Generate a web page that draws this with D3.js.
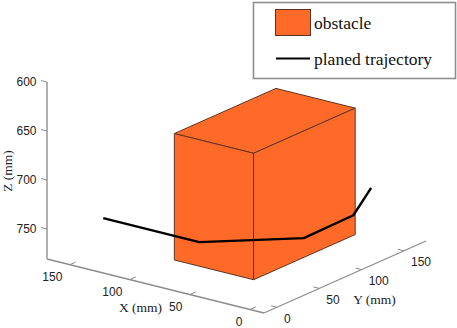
<!DOCTYPE html>
<html>
<head>
<meta charset="utf-8">
<script src="https://cdn.jsdelivr.net/npm/d3@7"></script>
<style>
  html, body { margin: 0; padding: 0; background: #fff; }
  svg { display: block; }
</style>
</head>
<body>
<div id="chart"></div>
<script>
// Values (mm)
const xTicks = [0, 50, 100, 150];
const yTicks = [0, 50, 100, 150];
const zTicks = [600, 650, 700, 750];
const xDomain = [-11.7, 169];
const yDomain = [-15.3, 176];
const zDomain = [600, 780.6];

const obstacleX = [9.6, 75.6];
const obstacleY = [2.6, 122.6];
const obstacleZ = [631, 760];

const trajectoryX = [152, 72, 21, 22, 10];
const trajectoryY = [27, 27, 78, 138, 142];
const trajectoryZ = [750, 750, 750, 750, 720];

const width = 457, height = 328;
const axisGrey = '#8c8c8c', textColor = '#222';
const orange = '#ff6a29', edge = '#5c3522';

const svg = d3.select('#chart').append('svg')
    .attr('width', width)
    .attr('height', height);

// Oblique 3D view: each axis gets two scales, one per screen direction
const corner = [264, 313];
const xToH = d3.scaleLinear().domain(xDomain).range([0, -217]);
const xToV = d3.scaleLinear().domain(xDomain).range([0, -54]);
const yToH = d3.scaleLinear().domain(yDomain).range([0, 162]);
const yToV = d3.scaleLinear().domain(yDomain).range([0, -72]);
const zToV = d3.scaleLinear().domain(zDomain).range([-177, 0]);

function project(x, y, z) {
    return [
        corner[0] + xToH(x) + yToH(y),
        corner[1] + xToV(x) + yToV(y) + zToV(z)
    ];
}

const path = d3.line();

function seg(g, a, b, color, w) {
    g.append('path')
        .attr('d', path([a, b]))
        .attr('fill', 'none')
        .attr('stroke', color)
        .attr('stroke-width', w);
}

// Axes
const axes = svg.append('g');
const [x0, x1] = xDomain, [y0, y1] = yDomain, [z0, z1] = zDomain;

seg(axes, project(x1, y0, z1), project(x0, y0, z1), axisGrey, 1.3);
seg(axes, project(x0, y0, z1), project(x0, y1, z1), axisGrey, 1.3);
seg(axes, project(x1, y0, z0), project(x1, y0, z1), '#a8a8a8', 1.8);

const labelFont = '"Liberation Sans", Arial, sans-serif';
const serifFont = '"Liberation Serif", "Times New Roman", serif';

function tickLabel(p, anchor, text) {
    axes.append('text')
        .attr('x', p[0])
        .attr('y', p[1])
        .attr('text-anchor', anchor)
        .attr('font-family', labelFont)
        .attr('font-size', 12)
        .attr('fill', textColor)
        .text(text);
}

xTicks.forEach(t => {
    const p = project(t, y0, z1);
    seg(axes, p, project(t, y0 + 7, z1), axisGrey, 1);
    tickLabel([p[0] - 7.5, p[1] + 16], 'end', t);
});
yTicks.forEach(t => {
    const p = project(x0, t, z1);
    seg(axes, p, project(x0 + 5, t, z1), axisGrey, 1);
    tickLabel([p[0] + 7, p[1] + 15.5], 'start', t);
});
zTicks.forEach(t => {
    const p = project(x1, y0, t);
    seg(axes, p, project(x1 + 5, y0, t), axisGrey, 1);
    tickLabel([36.5, p[1] + 4], 'end', t);
});

function axisTitle(x, y, text, rotate) {
    svg.append('text')
        .attr('transform', `translate(${x},${y})` + (rotate ? ` rotate(${rotate})` : ''))
        .attr('text-anchor', 'middle')
        .attr('font-family', serifFont)
        .attr('font-size', 13.5)
        .attr('fill', textColor)
        .text(text);
}
axisTitle(140.5, 312, 'X (mm)');
axisTitle(374.5, 304, 'Y (mm)');
axisTitle(12, 171, 'Z (mm)', -90);

// Obstacle: the three visible faces
const [bx0, bx1] = obstacleX, [by0, by1] = obstacleY, [bz0, bz1] = obstacleZ;
const faces = [
    [[bx0, by0, bz0], [bx1, by0, bz0], [bx1, by1, bz0], [bx0, by1, bz0]],
    [[bx0, by0, bz0], [bx1, by0, bz0], [bx1, by0, bz1], [bx0, by0, bz1]],
    [[bx0, by0, bz0], [bx0, by1, bz0], [bx0, by1, bz1], [bx0, by0, bz1]]
];
svg.append('g').selectAll('path')
    .data(faces)
    .join('path')
    .attr('d', f => path(f.map(c => project(...c))) + 'Z')
    .attr('fill', orange)
    .attr('stroke', edge)
    .attr('stroke-width', 1)
    .attr('stroke-linejoin', 'round');

// Trajectory
svg.append('path')
    .attr('d', path(trajectoryX.map((x, i) => project(x, trajectoryY[i], trajectoryZ[i]))))
    .attr('fill', 'none')
    .attr('stroke', '#000')
    .attr('stroke-width', 2.4)
    .attr('stroke-linejoin', 'round');

// Legend
const legend = svg.append('g');
legend.append('rect')
    .attr('x', 253.5).attr('y', 2.5)
    .attr('width', 202).attr('height', 76)
    .attr('fill', '#fff')
    .attr('stroke', '#8f8f8f')
    .attr('stroke-width', 1.6);
legend.append('rect')
    .attr('x', 275.5).attr('y', 9.5)
    .attr('width', 35).attr('height', 26)
    .attr('fill', orange)
    .attr('stroke', edge)
    .attr('stroke-width', 1);
legend.append('line')
    .attr('x1', 276).attr('x2', 310)
    .attr('y1', 58.5).attr('y2', 58.5)
    .attr('stroke', '#000')
    .attr('stroke-width', 2.2);
[['obstacle', 29], ['planed trajectory', 65]].forEach(([label, y]) => {
    legend.append('text')
        .attr('x', 314)
        .attr('y', y)
        .attr('font-family', serifFont)
        .attr('font-size', 17.5)
        .attr('fill', '#111')
        .text(label);
});
</script>
</body>
</html>
